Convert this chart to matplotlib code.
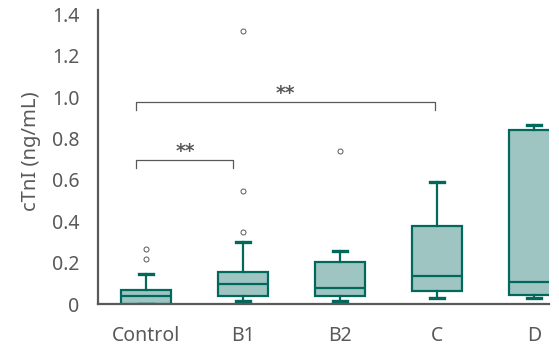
import matplotlib
matplotlib.use("Agg")
import matplotlib.pyplot as plt

categories = ["Control", "B1", "B2", "C", "D"]
q1 = [0.0, 0.037, 0.037, 0.063, 0.042]
median = [0.04, 0.097, 0.076, 0.135, 0.108]
q3 = [0.07, 0.156, 0.204, 0.378, 0.842]
whislo = [0.0, 0.013, 0.013, 0.027, 0.027]
whishi = [0.143, 0.298, 0.255, 0.588, 0.863]
fliers = [[0.216, 0.264], [0.346, 0.544, 1.32], [0.74], [], []]
yticks = [0, 0.2, 0.4, 0.6, 0.8, 1.0, 1.2, 1.4]
ytick_labels = ["0", "0.2", "0.4", "0.6", "0.8", "1.0", "1.2", "1.4"]

plt.rcParams['font.family'] = ['Noto Sans', 'DejaVu Sans']
text_color = "#595959"
edge = "#00695C"
fill = "#9FC5C3"

fig = plt.figure(figsize=(5.59, 3.48), dpi=100)
ax = fig.add_axes([0.1748, 0.1264, 0.8068, 0.8446])

stats = []
for i, c in enumerate(categories):
    stats.append(dict(label=c, q1=q1[i], med=median[i], q3=q3[i],
                      whislo=whislo[i], whishi=whishi[i], fliers=fliers[i]))

ax.bxp(stats, positions=range(len(categories)), widths=0.51, patch_artist=True,
       boxprops=dict(facecolor=fill, edgecolor=edge, linewidth=1.6),
       medianprops=dict(color=edge, linewidth=1.6),
       whiskerprops=dict(color=edge, linewidth=1.6),
       capprops=dict(color=edge, linewidth=2.4),
       capwidths=0.14,
       flierprops=dict(marker='o', markersize=3.6, markerfacecolor='none',
                       markeredgecolor=text_color, markeredgewidth=0.7))

ax.set_xlim(-0.5, 4.15)
ax.set_ylim(0, 1.42)
ax.set_yticks(yticks)
ax.set_yticklabels(ytick_labels)
ax.set_xticks(range(len(categories)))
ax.set_xticklabels(categories)
ax.tick_params(axis='both', length=0, labelsize=14, colors=text_color)
ax.tick_params(axis='x', pad=16)
ax.tick_params(axis='y', pad=13)
for s in ["top", "right"]:
    ax.spines[s].set_visible(False)
for s in ["left", "bottom"]:
    ax.spines[s].set_color(text_color)
    ax.spines[s].set_linewidth(1.6)
ax.set_ylabel("cTnI (ng/mL)", fontsize=14.5, color=text_color)
ax.yaxis.set_label_coords(-0.125, 0.52)

# significance brackets
def bracket(x0, x1, y, h, label, tx):
    ax.plot([x0, x0, x1, x1], [y - h, y, y, y - h], color=text_color, linewidth=0.9)
    ax.text(tx, y + 0.045, label, ha='center', va='center', fontsize=13.5,
            fontweight='bold', color=text_color, family='DejaVu Sans')

bracket(-0.107, 0.9, 0.694, 0.035, "**", 0.4)
bracket(-0.107, 2.98, 0.974, 0.035, "**", 1.44)

fig.savefig("out.png", dpi=100)
